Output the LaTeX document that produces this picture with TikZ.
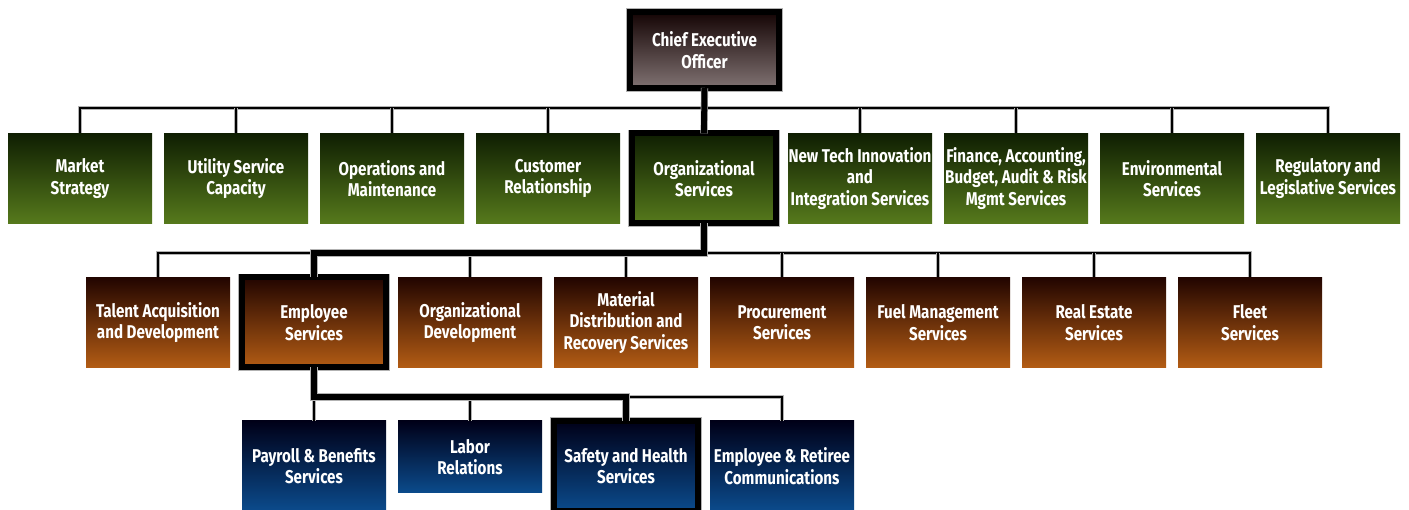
\documentclass[tikz,border=0pt]{standalone}
\usepackage{fontspec}
\setmainfont{Fira Sans}[FakeStretch=0.82]
\usetikzlibrary{positioning}

\definecolor{grntop}{HTML}{0F1E02}
\definecolor{grnbot}{HTML}{567A1C}
\definecolor{brntop}{HTML}{220500}
\definecolor{brnbot}{HTML}{B35C14}
\definecolor{blutop}{HTML}{000018}
\definecolor{blubot}{HTML}{0B4B8C}
\definecolor{ceotop}{HTML}{140404}
\definecolor{ceobot}{HTML}{807272}

\begin{document}
\begin{tikzpicture}[
        x=1pt, y=-1pt,
        node distance=12pt,
        every node/.style={minimum width=144pt, minimum height=90pt, inner sep=0.5pt, outer sep=0pt, align=center, text=white, font=\bfseries\fontsize{18.5}{21.5}\selectfont},
        topbox/.style={top color=grntop, bottom color=grnbot},
        midbox/.style={top color=brntop, bottom color=brnbot},
        lowbox/.style={top color=blutop, bottom color=blubot},
        chief/.style={top color=ceotop, bottom color=ceobot, minimum width=149pt, minimum height=76pt},
        onpath/.style={draw=black, line width=6pt, preaction={draw=gray!60, line width=7.5pt}},
        link/.style={draw=black, line width=2pt, preaction={draw=gray!60, line width=3.2pt}},
        keylink/.style={draw=black, line width=6pt, preaction={draw=gray!60, line width=7.2pt}}
        ]
        \useasboundingbox (0,0) rectangle (1409,510);

        % Nodes
        \node[chief, onpath] (ceo) at (704.5,50) {Chief Executive\\Officer};

        \node[topbox] (market) at (80,178.5) {Market\\Strategy};
        \node[topbox, right=of market] (utility) {Utility Service\\Capacity};
        \node[topbox, right=of utility] (opsmaint) {Operations and\\Maintenance};
        \node[topbox, right=of opsmaint] (customer) {Customer\\Relationship};
        \node[topbox, onpath, right=of customer] (orgsvc) {Organizational\\Services};
        \node[topbox, right=of orgsvc] (newtech) {New Tech Innovation\\and\\Integration Services};
        \node[topbox, right=of newtech] (finance) {Finance, Accounting,\\Budget, Audit \& Risk\\Mgmt Services};
        \node[topbox, right=of finance] (environ) {Environmental\\Services};
        \node[topbox, right=of environ] (regulatory) {Regulatory and\\Legislative Services};

        \node[midbox] (talent) at (158,322.5) {Talent Acquisition\\and Development};
        \node[midbox, onpath, right=of talent] (empsvc) {Employee\\Services};
        \node[midbox, right=of empsvc] (orgdev) {Organizational\\Development};
        \node[midbox, right=of orgdev] (material) {Material\\Distribution and\\Recovery Services};
        \node[midbox, right=of material] (procure) {Procurement\\Services};
        \node[midbox, right=of procure] (fuel) {Fuel Management\\Services};
        \node[midbox, right=of fuel] (realestate) {Real Estate\\Services};
        \node[midbox, right=of realestate] (fleet) {Fleet\\Services};

        \node[lowbox] (payroll) at (314,466) {Payroll \& Benefits\\Services};
        \node[lowbox, minimum height=72pt, right=of payroll.north east, anchor=north west] (labor) {Labor\\Relations};
        \node[lowbox, onpath, right=of labor.north east, anchor=north west] (safety) {Safety and Health\\Services};
        \node[lowbox, right=of safety] (retiree) {Employee \& Retiree\\Communications};

        % Connectors
        \coordinate (bus1) at (704,108);
        \coordinate (bus2) at (704,253);
        \coordinate (bus3) at (626,397);

        \draw[link] (market.north) |- (bus1) -| (regulatory.north);
        \foreach \n in {utility,opsmaint,customer,newtech,finance,environ}
            \draw[link] (\n.north) -- (\n.north |- bus1);
        \draw[keylink] (ceo.south) -- (orgsvc.north);

        \draw[link] (talent.north) |- (bus2) -| (fleet.north);
        \foreach \n in {orgdev,material,procure,fuel,realestate}
            \draw[link] (\n.north) -- (\n.north |- bus2);
        \draw[keylink] (orgsvc.south) -- (orgsvc.south |- bus2) -| (empsvc.north);

        \draw[link] (payroll.north) |- (bus3) -| (retiree.north);
        \draw[link] (labor.north) -- (labor.north |- bus3);
        \draw[keylink] (empsvc.south) -- (empsvc.south |- bus3) -| (safety.north);

\end{tikzpicture}
\end{document}
